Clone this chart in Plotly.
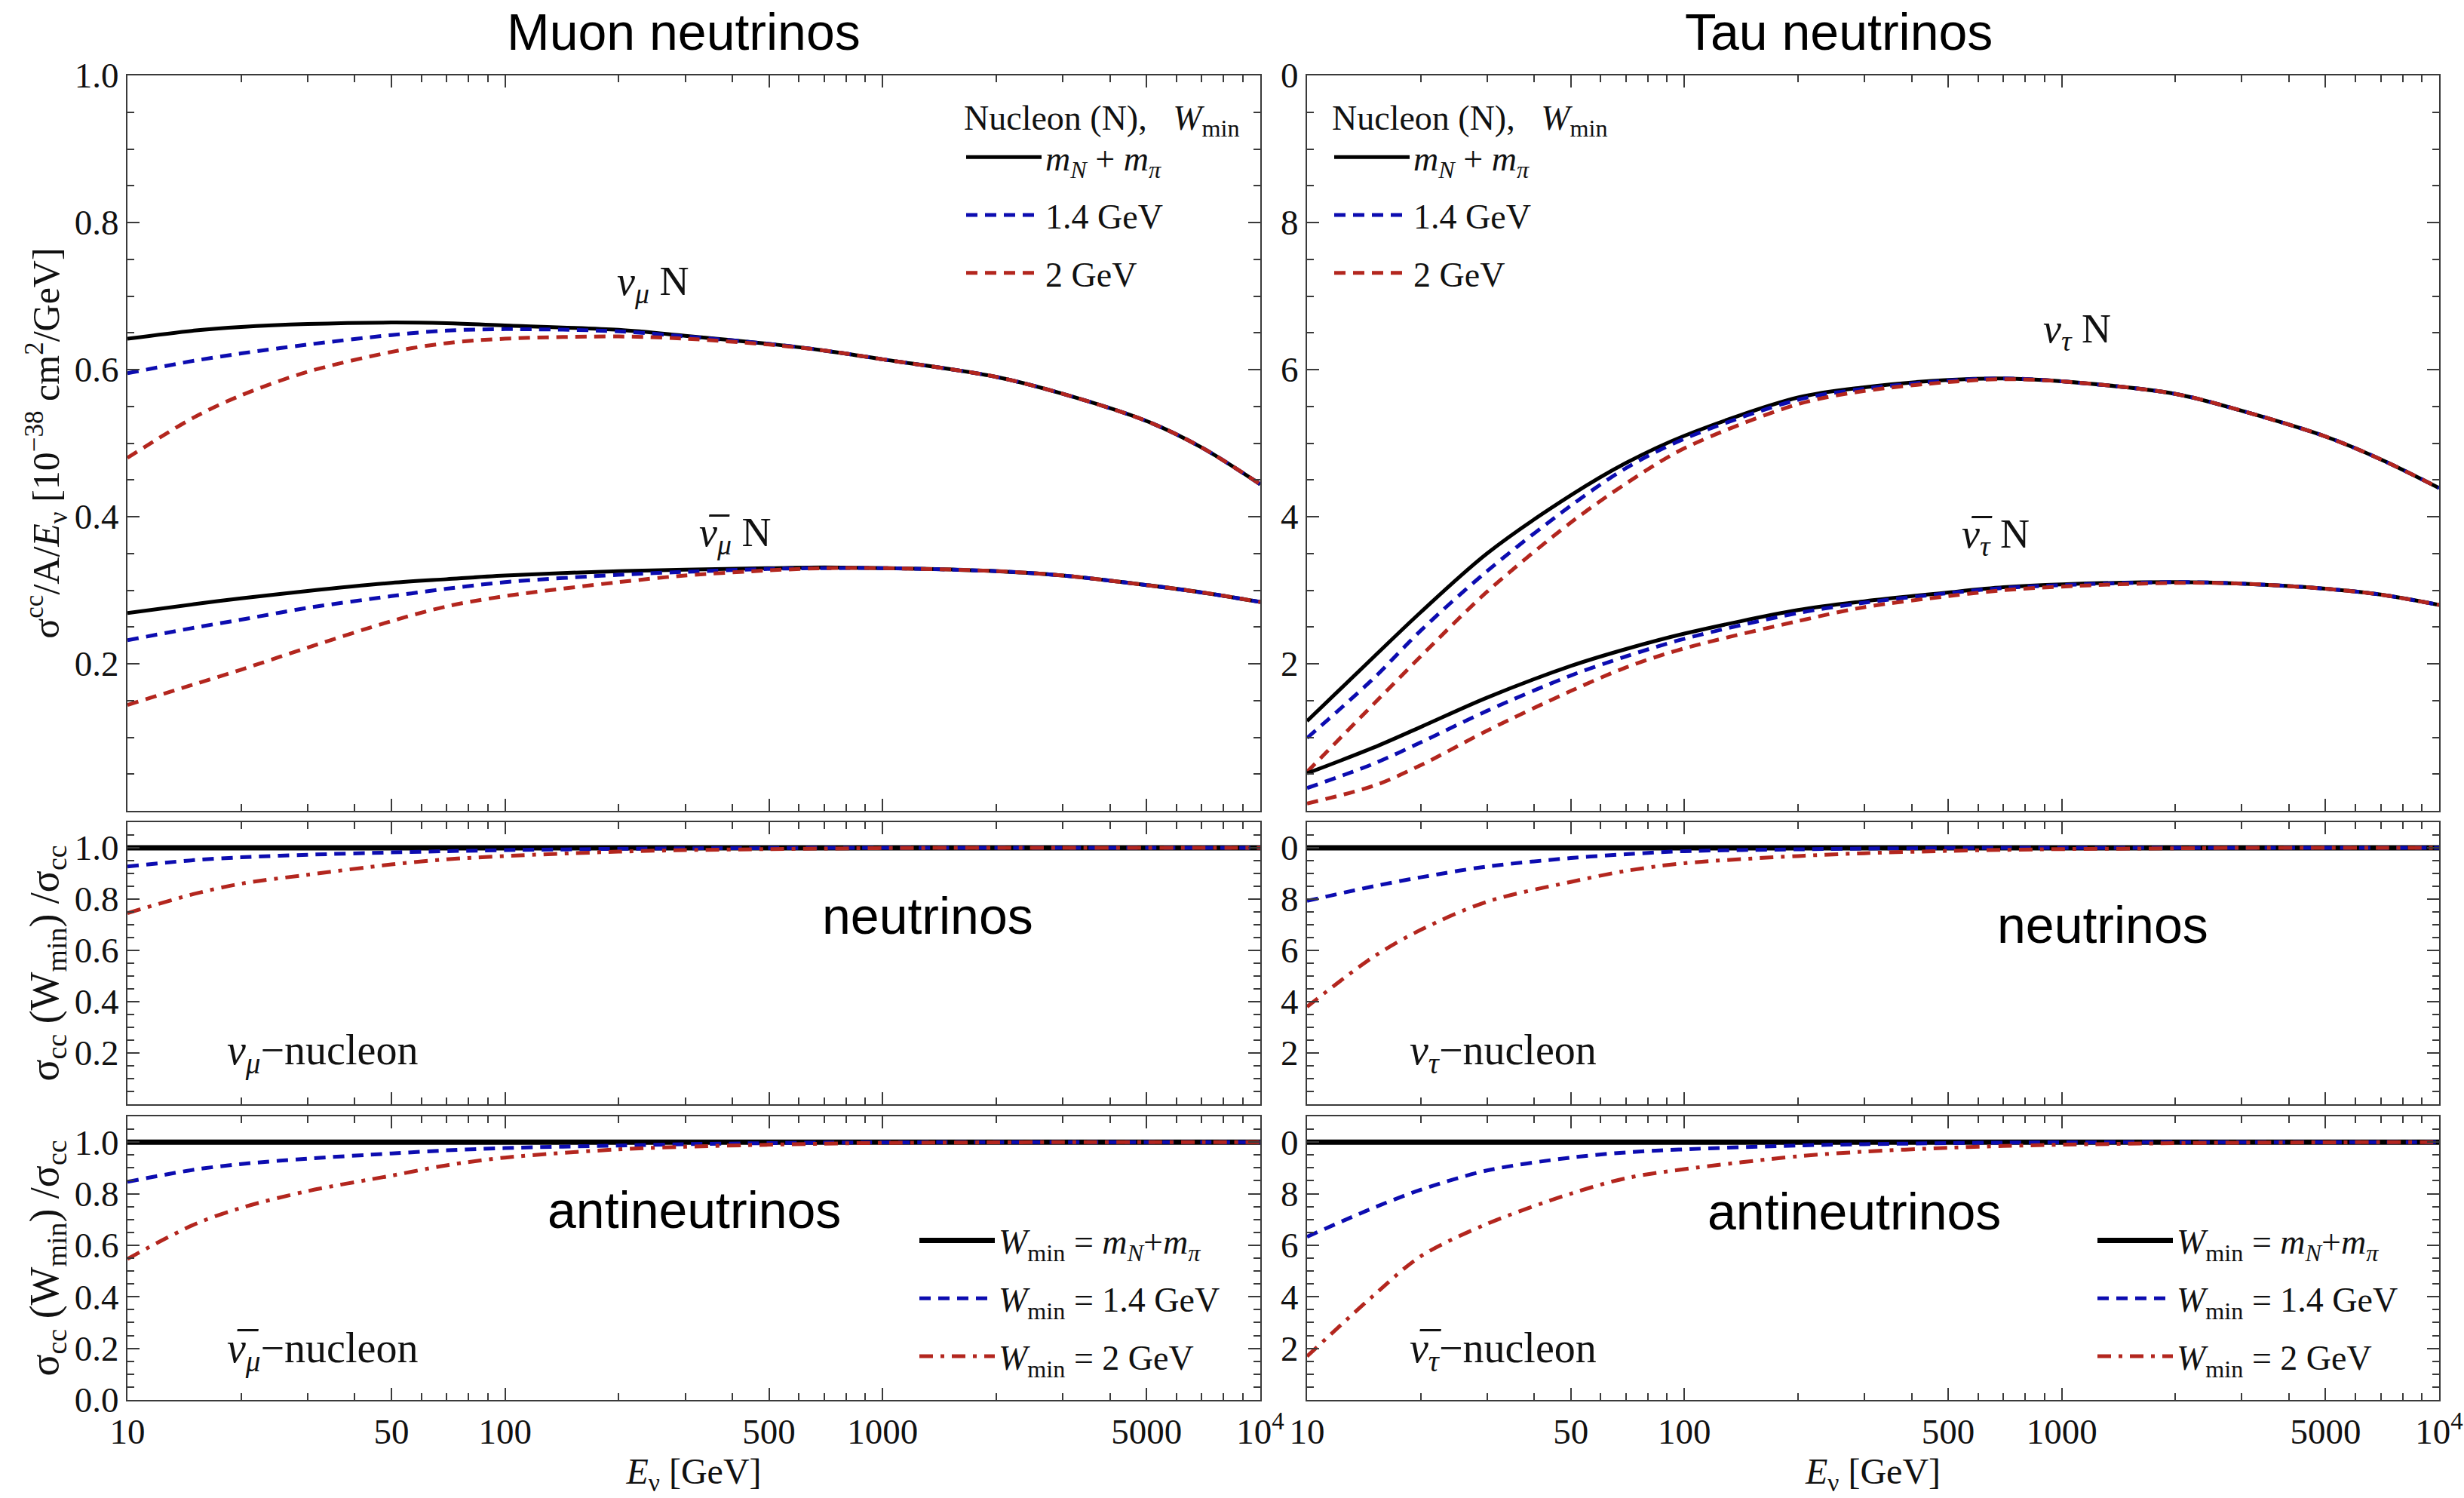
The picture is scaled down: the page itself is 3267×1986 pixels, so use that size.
import plotly.graph_objects as go
from plotly.subplots import make_subplots

# ---------------- data ----------------
E = [10, 15, 20, 30, 50, 70, 100, 200, 300, 500, 700, 1000, 2000, 3000, 5000, 7000, 10000]

# top-left: sigma/A/E  [1e-38 cm^2/GeV], muon neutrinos
numu_wpi = [0.642, 0.653, 0.658, 0.662, 0.664, 0.663, 0.660, 0.654, 0.646, 0.635, 0.626, 0.614, 0.590, 0.567, 0.530, 0.494, 0.444]
numu_w14 = [0.595, 0.612, 0.622, 0.634, 0.647, 0.653, 0.655, 0.652, 0.645, 0.635, 0.626, 0.614, 0.590, 0.567, 0.530, 0.494, 0.444]
numu_w2 = [0.480, 0.535, 0.565, 0.597, 0.624, 0.636, 0.642, 0.645, 0.642, 0.634, 0.626, 0.614, 0.590, 0.567, 0.530, 0.494, 0.444]
anumu_wpi = [0.269, 0.281, 0.289, 0.299, 0.310, 0.315, 0.320, 0.326, 0.328, 0.330, 0.331, 0.330, 0.326, 0.320, 0.307, 0.297, 0.284]
anumu_w14 = [0.232, 0.249, 0.260, 0.276, 0.292, 0.302, 0.311, 0.321, 0.325, 0.329, 0.330, 0.330, 0.326, 0.320, 0.307, 0.297, 0.284]
anumu_w2 = [0.144, 0.172, 0.192, 0.222, 0.258, 0.278, 0.292, 0.311, 0.320, 0.327, 0.330, 0.330, 0.326, 0.320, 0.307, 0.297, 0.284]

# top-right: tau neutrinos
nutau_wpi = [1.22, 2.09, 2.70, 3.50, 4.29, 4.73, 5.10, 5.62, 5.76, 5.86, 5.88, 5.84, 5.67, 5.44, 5.09, 4.78, 4.39]
nutau_w14 = [0.99, 1.80, 2.45, 3.26, 4.15, 4.66, 5.06, 5.59, 5.74, 5.85, 5.88, 5.84, 5.67, 5.44, 5.09, 4.78, 4.39]
nutau_w2 = [0.53, 1.45, 2.10, 2.98, 3.92, 4.45, 4.93, 5.53, 5.71, 5.83, 5.87, 5.84, 5.67, 5.44, 5.09, 4.78, 4.39]
anutau_wpi = [0.51, 0.86, 1.14, 1.54, 1.97, 2.20, 2.41, 2.73, 2.85, 2.97, 3.04, 3.08, 3.11, 3.09, 3.02, 2.94, 2.80]
anutau_w14 = [0.31, 0.64, 0.93, 1.36, 1.84, 2.10, 2.34, 2.69, 2.83, 2.96, 3.03, 3.07, 3.11, 3.09, 3.02, 2.94, 2.80]
anutau_w2 = [0.10, 0.34, 0.62, 1.09, 1.63, 1.95, 2.21, 2.58, 2.77, 2.92, 3.00, 3.05, 3.10, 3.09, 3.02, 2.94, 2.80]

# ratio panels sigma_cc(Wmin)/sigma_cc
ratio_ref = [1.0] * len(E)
r_numu_w14 = [0.927, 0.952, 0.963, 0.973, 0.982, 0.987, 0.991, 0.996, 0.998, 0.999, 1.0, 1.0, 1.0, 1.0, 1.0, 1.0, 1.0]
r_numu_w2 = [0.745, 0.820, 0.860, 0.895, 0.935, 0.955, 0.968, 0.985, 0.991, 0.995, 0.997, 0.999, 1.0, 1.0, 1.0, 1.0, 1.0]
r_anumu_w14 = [0.846, 0.893, 0.915, 0.936, 0.956, 0.968, 0.977, 0.987, 0.992, 0.996, 0.998, 0.999, 1.0, 1.0, 1.0, 1.0, 1.0]
r_anumu_w2 = [0.547, 0.680, 0.745, 0.810, 0.870, 0.910, 0.940, 0.972, 0.982, 0.990, 0.994, 0.997, 0.999, 1.0, 1.0, 1.0, 1.0]
r_nutau_w14 = [0.793, 0.850, 0.885, 0.927, 0.960, 0.975, 0.987, 0.994, 0.997, 0.999, 1.0, 1.0, 1.0, 1.0, 1.0, 1.0, 1.0]
r_nutau_w2 = [0.380, 0.575, 0.680, 0.790, 0.867, 0.910, 0.940, 0.968, 0.979, 0.988, 0.992, 0.995, 0.998, 1.0, 1.0, 1.0, 1.0]
r_anutau_w14 = [0.633, 0.745, 0.815, 0.890, 0.940, 0.960, 0.972, 0.987, 0.992, 0.996, 0.998, 0.999, 1.0, 1.0, 1.0, 1.0, 1.0]
r_anutau_w2 = [0.169, 0.405, 0.557, 0.683, 0.800, 0.860, 0.895, 0.945, 0.963, 0.978, 0.985, 0.990, 0.996, 0.998, 0.999, 1.0, 1.0]

E_MAJOR = [10, 50, 100, 500, 1000, 5000, 10000]
E_MAJOR_TEXT = ["10", "50", "100", "500", "1000", "5000", "10<sup>4</sup>"]
E_MINOR = [20, 30, 40, 60, 70, 80, 90, 200, 300, 400, 600, 700, 800, 900,
           2000, 3000, 4000, 6000, 7000, 8000, 9000]

# ---------------- styling ----------------
W, H = 3267, 1986
SERIF = "Liberation Serif"
SANS = "Liberation Sans"
BLACK = "#000000"
BLUE = "#0c0cb0"
RED = "#b3261e"
AX = "#3a3a3a"
TXT = "#111111"
DASH = "15px,10px"
DASHDOT = "18px,10px,5px,10px"

fig = make_subplots(rows=3, cols=2)

LEG_TOP = [("<i>m</i><sub><i>N</i></sub> + <i>m</i><sub><i>π</i></sub>", BLACK, "solid", 5),
           ("1.4 GeV", BLUE, DASH, 5),
           ("2 GeV", RED, DASH, 5)]
LEG_BOT = [("<i>W</i><sub>min</sub> = <i>m</i><sub><i>N</i></sub>+<i>m</i><sub><i>π</i></sub>", BLACK, "solid", 7),
           ("<i>W</i><sub>min</sub> = 1.4 GeV", BLUE, DASH, 5),
           ("<i>W</i><sub>min</sub> = 2 GeV", RED, DASHDOT, 5)]


def add(row, col, series_sets, styles, legend_name, tag):
    for si, series in enumerate(series_sets):
        for k, ys in enumerate(series):
            name, color, dash, width = styles[k]
            fig.add_trace(go.Scatter(
                x=E, y=ys, mode="lines", name=name,
                line=dict(color=color, dash=dash, width=width, shape="spline", smoothing=0.9),
                legend=legend_name if legend_name else "legend",
                legendgroup=f"{tag}{k}",
                showlegend=(si == 0 and legend_name is not None),
                hoverinfo="skip"), row=row, col=col)


add(1, 1, [[numu_wpi, numu_w14, numu_w2], [anumu_wpi, anumu_w14, anumu_w2]], LEG_TOP, "legend", "a")
add(1, 2, [[nutau_wpi, nutau_w14, nutau_w2], [anutau_wpi, anutau_w14, anutau_w2]], LEG_TOP, "legend2", "b")
add(2, 1, [[ratio_ref, r_numu_w14, r_numu_w2]], LEG_BOT, None, "c")
add(2, 2, [[ratio_ref, r_nutau_w14, r_nutau_w2]], LEG_BOT, None, "d")
add(3, 1, [[ratio_ref, r_anumu_w14, r_anumu_w2]], LEG_BOT, "legend3", "e")
add(3, 2, [[ratio_ref, r_anutau_w14, r_anutau_w2]], LEG_BOT, "legend4", "f")

# ---------------- axes ----------------
XL = [169 / W, 1671 / W]
XR = [1733 / W, 3234 / W]
YT = [1 - 1075 / H, 1 - 100 / H]
YM = [1 - 1464 / H, 1 - 1090 / H]
YB = [1 - 1856 / H, 1 - 1480 / H]

tickfont = dict(family=SERIF, size=47, color=TXT)


def xax(domain, anchor, labels):
    return dict(type="log", range=[1, 4], domain=domain, anchor=anchor, automargin=False,
                showline=True, linecolor=AX, linewidth=2, mirror="ticks",
                ticks="inside", ticklen=16, tickwidth=2, tickcolor=AX,
                tickmode="array", tickvals=E_MAJOR, ticktext=E_MAJOR_TEXT,
                showticklabels=labels, tickfont=tickfont,
                minor=dict(ticks="inside", ticklen=9, tickwidth=2, tickcolor=AX,
                           tickmode="array", tickvals=E_MINOR),
                showgrid=False, zeroline=False)


def yax(domain, anchor, rng, vals, text, minor_step):
    return dict(range=rng, domain=domain, anchor=anchor, automargin=False,
                showline=True, linecolor=AX, linewidth=2, mirror="ticks",
                ticks="inside", ticklen=16, tickwidth=2, tickcolor=AX,
                tickmode="array", tickvals=vals, ticktext=text, tickfont=tickfont,
                minor=dict(ticks="inside", ticklen=9, tickwidth=2, tickcolor=AX,
                           tick0=0, dtick=minor_step),
                showgrid=False, zeroline=False)


xtitle = dict(text="<i>E</i><sub>ν</sub> [GeV]", font=dict(family=SERIF, size=48, color=TXT), standoff=6)
ratio_title = dict(text="σ<sub>cc</sub> (W<sub>min</sub>) /σ<sub>cc</sub>",
                   font=dict(family=SERIF, size=54, color=TXT), standoff=4)

fig.update_layout(
    xaxis=xax(XL, "y", False),
    xaxis2=xax(XR, "y2", False),
    xaxis3=xax(XL, "y3", False),
    xaxis4=xax(XR, "y4", False),
    xaxis5=dict(xax(XL, "y5", True), title=xtitle),
    xaxis6=dict(xax(XR, "y6", True), title=xtitle),
    yaxis=dict(yax(YT, "x", [0, 1.0], [0.2, 0.4, 0.6, 0.8, 1.0], ["0.2", "0.4", "0.6", "0.8", "1.0"], 0.05),
               title=dict(text="σ<sup>cc</sup>/A/<i>E</i><sub>ν</sub> [10<sup>−38</sup> cm<sup>2</sup>/GeV]",
                          font=dict(family=SERIF, size=50, color=TXT), standoff=4)),
    yaxis2=yax(YT, "x2", [0, 10], [2, 4, 6, 8, 10], ["2", "4", "6", "8", "0"], 0.5),
    yaxis3=dict(yax(YM, "x3", [0, 1.1], [0.2, 0.4, 0.6, 0.8, 1.0], ["0.2", "0.4", "0.6", "0.8", "1.0"], 0.05),
                title=ratio_title),
    yaxis4=yax(YM, "x4", [0, 1.1], [0.2, 0.4, 0.6, 0.8, 1.0], ["2", "4", "6", "8", "0"], 0.05),
    yaxis5=dict(yax(YB, "x5", [0, 1.1], [0, 0.2, 0.4, 0.6, 0.8, 1.0], ["0.0", "0.2", "0.4", "0.6", "0.8", "1.0"], 0.05),
                title=ratio_title),
    yaxis6=yax(YB, "x6", [0, 1.1], [0.2, 0.4, 0.6, 0.8, 1.0], ["2", "4", "6", "8", "0"], 0.05),
)

# ---------------- legends ----------------
legfont = dict(family=SERIF, size=46, color=TXT)
leg_title = dict(text="Nucleon (N),\u00a0\u00a0\u00a0<i>W</i><sub>min</sub>", side="top", font=legfont)
common_leg = dict(xanchor="left", yanchor="top", bgcolor="rgba(0,0,0,0)", font=legfont,
                  traceorder="grouped", tracegroupgap=14, itemwidth=100)
fig.update_layout(
    legend=dict(common_leg, x=1276 / W, y=1 - 112 / H, title=leg_title),
    legend2=dict(common_leg, x=1764 / W, y=1 - 112 / H, title=leg_title),
    legend3=dict(common_leg, x=1214 / W, y=1 - 1608 / H),
    legend4=dict(common_leg, x=2776 / W, y=1 - 1608 / H),
)

# ---------------- text annotations ----------------
ann_font = dict(family=SERIF, size=54, color=TXT)
lab_font = dict(family=SERIF, size=56, color=TXT)
big_font = dict(family=SANS, size=68, color="#000")
NUMU_LABEL_POS = (2.392, 0.716)
ANUMU_LABEL_POS = (2.608, 0.375)
NUTAU_LABEL_POS = (3.04, 6.52)
ANUTAU_LABEL_POS = (2.825, 3.73)

annotations = [
    dict(text="Muon neutrinos", x=906 / W, y=1 - 42 / H, xref="paper", yref="paper",
         xanchor="center", yanchor="middle", showarrow=False, font=big_font),
    dict(text="Tau neutrinos", x=2438 / W, y=1 - 42 / H, xref="paper", yref="paper",
         xanchor="center", yanchor="middle", showarrow=False, font=big_font),
    dict(text="<i>ν</i><sub><i>μ</i></sub> N", x=NUMU_LABEL_POS[0], y=NUMU_LABEL_POS[1], xref="x", yref="y", showarrow=False, font=ann_font),
    dict(text="<i>ν\u0305</i><sub><i>μ</i></sub> N", x=ANUMU_LABEL_POS[0], y=ANUMU_LABEL_POS[1], xref="x", yref="y", showarrow=False, font=ann_font),
    dict(text="<i>ν</i><sub><i>τ</i></sub> N", x=NUTAU_LABEL_POS[0], y=NUTAU_LABEL_POS[1], xref="x2", yref="y2", showarrow=False, font=ann_font),
    dict(text="<i>ν\u0305</i><sub><i>τ</i></sub> N", x=ANUTAU_LABEL_POS[0], y=ANUTAU_LABEL_POS[1], xref="x2", yref="y2", showarrow=False, font=ann_font),
    dict(text="<i>ν</i><sub><i>μ</i></sub>−nucleon", x=1.517, y=0.20, xref="x3", yref="y3", showarrow=False, font=lab_font),
    dict(text="<i>ν</i><sub><i>τ</i></sub>−nucleon", x=1.52, y=0.20, xref="x4", yref="y4", showarrow=False, font=lab_font),
    dict(text="<i>ν\u0305</i><sub><i>μ</i></sub>−nucleon", x=1.517, y=0.19, xref="x5", yref="y5", showarrow=False, font=lab_font),
    dict(text="<i>ν\u0305</i><sub><i>τ</i></sub>−nucleon", x=1.52, y=0.19, xref="x6", yref="y6", showarrow=False, font=lab_font),
    dict(text="neutrinos", x=3.12, y=0.736, xref="x3", yref="y3", showarrow=False, font=big_font),
    dict(text="neutrinos", x=3.108, y=0.70, xref="x4", yref="y4", showarrow=False, font=big_font),
    dict(text="antineutrinos", x=2.5, y=0.736, xref="x5", yref="y5", showarrow=False, font=big_font),
    dict(text="antineutrinos", x=2.45, y=0.73, xref="x6", yref="y6", showarrow=False, font=big_font),
]

fig.update_layout(
    width=W, height=H, autosize=False,
    margin=dict(l=0, r=0, t=0, b=0, autoexpand=False),
    paper_bgcolor="white", plot_bgcolor="white",
    annotations=annotations,
    font=dict(family=SERIF, color=TXT),
)

fig.write_html("out.html")
